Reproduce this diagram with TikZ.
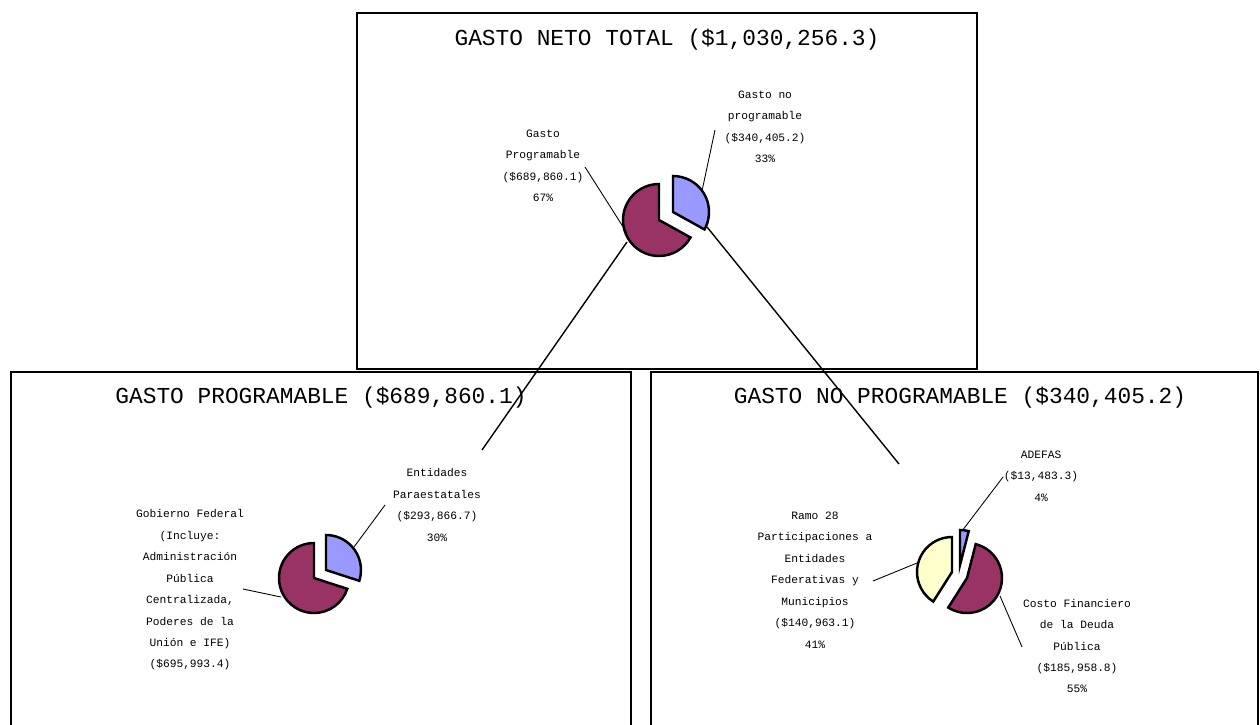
\documentclass[tikz,border=0pt]{standalone}
\usepackage{fontspec}
\newfontfamily\chartfont{Liberation Mono}
\definecolor{plum}{HTML}{993366}
\definecolor{lilac}{HTML}{9999FF}
\definecolor{ivory}{HTML}{FFFFCC}
% centre, radius, start angle, end angle, colour
\newcommand{\pieslice}[5]{%
  \filldraw[slice, fill=#5] (#1) -- ++(#3:#2) arc[start angle=#3, end angle=#4, radius=#2] -- cycle;}

\begin{document}
\begin{tikzpicture}[x=0.02cm, y=-0.02cm,
    box/.style={draw, line width=0.6pt},
    title/.style={font=\chartfont\fontsize{13}{15}\selectfont},
    lbl/.style={align=center, inner sep=0pt, font=\chartfont\fontsize{6.4}{12.2}\selectfont},
    lead/.style={line width=0.5pt},
    link/.style={line width=0.8pt},
    slice/.style={draw=black, line width=1.4pt}]
	\useasboundingbox (0,0) rectangle (1260,724);
	\clip (0,0) rectangle (1260,724);

	% frames
	\draw[box] (357,13) rectangle (977,369);
	\draw[box] (11,372) rectangle (631,740);
	\draw[box] (651,372) rectangle (1258,740);

	\node[title] (ttotal) at (667,40) {GASTO NETO TOTAL (\$1,030,256.3)};
	\node[title] (tprog) at (321,398) {GASTO PROGRAMABLE (\$689,860.1)};
	\node[title] (tnoprog) at (960,398) {GASTO NO PROGRAMABLE (\$340,405.2)};

	% pies
	\pieslice{659,220}{0.72cm}{90}{331}{plum}
	\pieslice{673,212}{0.72cm}{-29}{90}{lilac}

	\pieslice{314,578}{0.7cm}{90}{342}{plum}
	\pieslice{326,570}{0.7cm}{-18}{90}{lilac}

	\pieslice{967,578}{0.7cm}{-122.4}{75.6}{plum}
	\pieslice{960,565}{0.7cm}{75.6}{90}{lilac}
	\pieslice{952,572}{0.7cm}{90}{237.6}{ivory}

	% labels
	\node[lbl] (gprog) at (543,166) {Gasto\\Programable\\(\$689,860.1)\\67\%};
	\node[lbl] (gnoprog) at (765,127) {Gasto no\\programable\\(\$340,405.2)\\33\%};
	\node[lbl] (entidades) at (437,505) {Entidades\\Paraestatales\\(\$293,866.7)\\30\%};
	\node[lbl] (gobierno) at (190,590) {Gobierno Federal\\(Incluye:\\Administración\\Pública\\Centralizada,\\Poderes de la\\Unión e IFE)\\(\$695,993.4)};
	\node[lbl] (adefas) at (1041,476) {ADEFAS\\(\$13,483.3)\\4\%};
	\node[lbl] (ramo) at (815,580) {Ramo 28\\Participaciones a\\Entidades\\Federativas y\\Municipios\\(\$140,963.1)\\41\%};
	\node[lbl] (costo) at (1077,646) {Costo Financiero\\de la Deuda\\Pública\\(\$185,958.8)\\55\%};

	% connector ends
	\coordinate (gprog-a) at (585,167);   \coordinate (gprog-b) at (627,233);
	\coordinate (gnoprog-a) at (715,130); \coordinate (gnoprog-b) at (702,191);
	\coordinate (entidades-a) at (385,505); \coordinate (entidades-b) at (354,547);
	\coordinate (gobierno-a) at (243,589);  \coordinate (gobierno-b) at (281,597);
	\coordinate (adefas-a) at (1003,477);   \coordinate (adefas-b) at (962,531);
	\coordinate (ramo-a) at (873,581);      \coordinate (ramo-b) at (917,563);
	\coordinate (costo-a) at (1022,647);    \coordinate (costo-b) at (1000,596);
	\coordinate (progtip) at (627,242);    \coordinate (progfoot) at (482,450);
	\coordinate (noprogtip) at (707,227);  \coordinate (noprogfoot) at (899,464);

	\draw[lead] (gprog-a) -- (gprog-b);
	\draw[lead] (gnoprog-a) -- (gnoprog-b);
	\draw[lead] (entidades-a) -- (entidades-b);
	\draw[lead] (gobierno-a) -- (gobierno-b);
	\draw[lead] (adefas-a) -- (adefas-b);
	\draw[lead] (ramo-a) -- (ramo-b);
	\draw[lead] (costo-a) -- (costo-b);

	\draw[link] (progtip) -- (progfoot);
	\draw[link] (noprogtip) -- (noprogfoot);
\end{tikzpicture}
\end{document}
